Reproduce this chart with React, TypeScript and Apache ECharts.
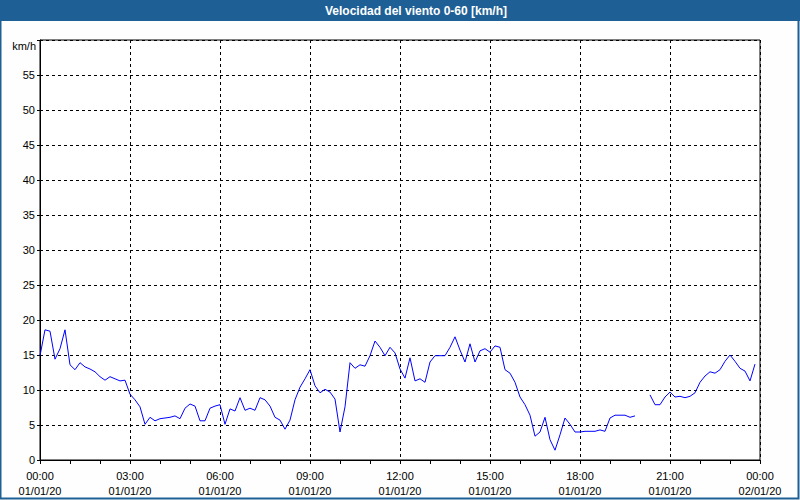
import React, { useEffect, useRef } from "react";
import * as echarts from "echarts";

const TITLE = "Velocidad del viento 0-60 [km/h]";
const UNIT = "km/h";
const STEP_MIN = 10;
// wind speed every 10 minutes from 00:00 to 23:50 (null = no data)
const windSpeed: (number | null)[] = [
  14.9, 18.6, 18.4, 14.4, 15.9, 18.6, 13.6, 12.9, 13.9, 13.3,
  13.0, 12.6, 11.9, 11.4, 11.9, 11.6, 11.3, 11.4, 9.4, 8.6,
  7.6, 5.1, 6.1, 5.6, 5.9, 6.0, 6.1, 6.3, 5.9, 7.4,
  8.0, 7.7, 5.6, 5.6, 7.4, 7.7, 7.9, 5.1, 7.3, 7.0,
  8.9, 7.1, 7.4, 7.1, 8.9, 8.6, 7.7, 6.1, 5.7, 4.4,
  5.7, 8.6, 10.4, 11.6, 12.9, 10.6, 9.6, 10.1, 9.7, 8.7,
  4.0, 7.6, 13.9, 13.1, 13.6, 13.4, 14.9, 17.0, 16.1, 14.9,
  16.1, 15.3, 13.0, 11.7, 14.6, 11.3, 11.6, 11.1, 14.0, 14.9,
  14.9, 14.9, 16.1, 17.6, 15.7, 14.0, 16.6, 14.0, 15.6, 15.9,
  15.4, 16.3, 16.1, 12.9, 12.4, 11.1, 9.0, 7.9, 6.4, 3.4,
  4.0, 6.1, 2.9, 1.4, 3.6, 6.0, 5.1, 4.0, 4.0, 4.1,
  4.1, 4.1, 4.3, 4.1, 6.0, 6.4, 6.4, 6.4, 6.1, 6.3,
  null, null, 9.3, 7.9, 7.9, 9.0, 9.7, 9.0, 9.1, 8.9,
  9.1, 9.6, 11.1, 12.0, 12.6, 12.4, 12.9, 14.1, 15.0, 14.1,
  13.1, 12.7, 11.3, 13.7,
];
const Y_MIN = 0;
const Y_MAX = 60;
const Y_STEP = 5;
const X_MAX_MIN = 1440;
const X_STEP_MIN = 180;
const DATE_START = "01/01/20";
const DATE_END = "02/01/20";

const FONT = "Liberation Sans";
const BLUE = "#1E6096";

export default function App() {
  const ref = useRef<HTMLDivElement>(null);
  useEffect(() => {
    if (!ref.current) return;
    const chart = echarts.init(ref.current, null, { renderer: "svg" });
    const data = windSpeed.map((v, i) => [i * STEP_MIN, v]);
    const pad = (n: number) => (n < 10 ? "0" + n : "" + n);
    chart.setOption({
      animation: false,
      backgroundColor: "#FDFEFD",
      textStyle: { fontFamily: FONT },
      grid: {
        left: 40,
        right: 40,
        top: 40,
        bottom: 40,
        show: true,
        borderColor: "#000",
        borderWidth: 1,
        backgroundColor: "#FFFFFF",
      },
      graphic: [
        {
          type: "rect",
          shape: { x: 0.5, y: 0.5, width: 798, height: 498 },
          style: { fill: "none", stroke: BLUE, lineWidth: 2 },
          silent: true,
        },
        {
          type: "rect",
          shape: { x: 0, y: 0, width: 800, height: 21 },
          style: { fill: BLUE },
          silent: true,
        },
        {
          type: "text",
          x: 416,
          y: 11,
          style: {
            text: TITLE,
            fill: "#FFFFFF",
            font: `bold 12px '${FONT}'`,
            textAlign: "center",
            textVerticalAlign: "middle",
          },
          silent: true,
        },
        {
          type: "text",
          x: 36,
          y: 46,
          style: {
            text: UNIT,
            fill: "#000",
            font: `11px '${FONT}'`,
            textAlign: "right",
            textVerticalAlign: "middle",
          },
          silent: true,
        },
      ],
      xAxis: {
        type: "value",
        min: 0,
        max: X_MAX_MIN,
        interval: X_STEP_MIN,
        axisLine: { show: true, lineStyle: { color: "#000", width: 1 } },
        axisTick: { show: true, length: 4, lineStyle: { color: "#000" } },
        minorTick: { show: true, splitNumber: 3, length: 4, lineStyle: { color: "#000" } },
        splitLine: { show: true, lineStyle: { color: "#000", type: [3, 3], width: 1 } },
        axisLabel: {
          color: "#000",
          fontSize: 11,
          fontFamily: FONT,
          lineHeight: 15,
          margin: 8,
          showMinLabel: true,
          showMaxLabel: true,
          formatter: (v: number) => {
            const h = Math.floor(v / 60) % 24;
            const m = v % 60;
            const d = v >= X_MAX_MIN ? DATE_END : DATE_START;
            return `${pad(h)}:${pad(m)}\n${d}`;
          },
        },
      },
      yAxis: {
        type: "value",
        min: Y_MIN,
        max: Y_MAX,
        interval: Y_STEP,
        axisLine: { show: true, lineStyle: { color: "#000", width: 1 } },
        axisTick: { show: true, length: 3, lineStyle: { color: "#000" } },
        splitLine: { show: true, lineStyle: { color: "#000", type: [3, 3], width: 1 } },
        axisLabel: {
          color: "#000",
          fontSize: 11,
          fontFamily: FONT,
          margin: 5,
          formatter: (v: number) => (v >= Y_MAX ? "" : String(v)),
        },
      },
      series: [
        {
          type: "line",
          data,
          showSymbol: false,
          connectNulls: false,
          lineStyle: { color: "#0000FF", width: 1 },
          itemStyle: { color: "#0000FF" },
        },
      ],
    });
    return () => chart.dispose();
  }, []);
  return (
    <div
      ref={ref}
      style={{ position: "fixed", left: 0, top: 0, width: 800, height: 500 }}
    />
  );
}
